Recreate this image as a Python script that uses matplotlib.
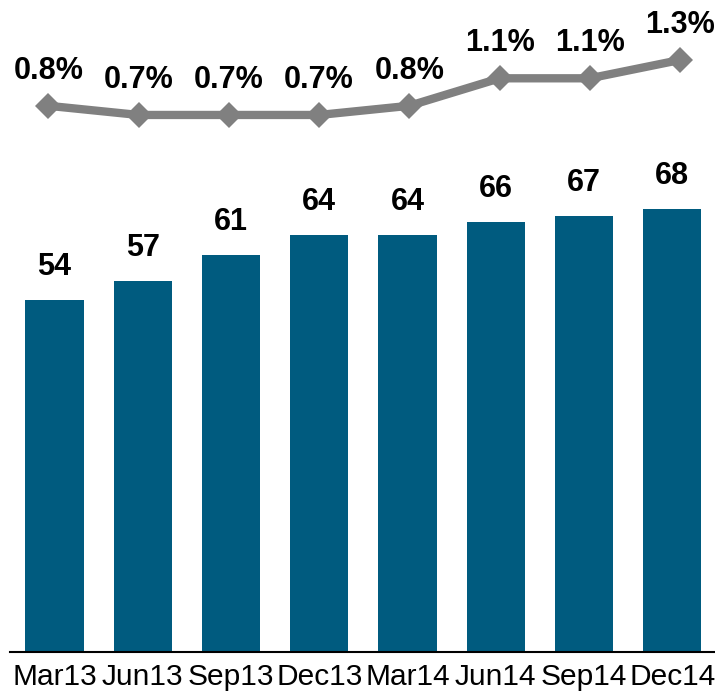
import matplotlib
matplotlib.use("Agg")
import matplotlib.pyplot as plt

plt.rcParams["font.family"] = ["Liberation Sans", "DejaVu Sans"]

quarters = ["Mar13", "Jun13", "Sep13", "Dec13", "Mar14", "Jun14", "Sep14", "Dec14"]
bar_values = [54, 57, 61, 64, 64, 66, 67, 68]
rate_values = [0.8, 0.7, 0.7, 0.7, 0.8, 1.1, 1.1, 1.3]
rate_labels = ["0.8%", "0.7%", "0.7%", "0.7%", "0.8%", "1.1%", "1.1%", "1.3%"]

BAR_COLOR = "#005B7F"
LINE_COLOR = "#808080"

W, H = 715, 697
fig = plt.figure(figsize=(W / 100, H / 100), dpi=100)

# Bar panel
ax = fig.add_axes([10.4 / W, 44.7 / H, 706 / W, 80 * 6.515 / H])
x = list(range(len(quarters)))
ax.bar(x, bar_values, width=0.66, color=BAR_COLOR)
ax.set_xlim(-0.5, 7.5)
ax.set_ylim(0, 80)
for xi, v in zip(x, bar_values):
    ax.annotate(f"{v}", (xi, v), xytext=(0, 18), textcoords="offset points",
                ha="center", va="baseline", fontsize=22, fontweight="bold")
ax.set_xticks(x)
ax.set_xticklabels(quarters, fontsize=21.5)
ax.tick_params(axis="x", length=0, pad=8)
ax.set_yticks([])
for side in ("top", "right", "left"):
    ax.spines[side].set_visible(False)
ax.spines["bottom"].set_linewidth(1.5)
ax.patch.set_alpha(0)

# Rate line panel
lx = fig.add_axes([3.2 / W, 1 - 133.3 / H, 722 / W, 91.67 / H])
lx.plot(x, rate_values, color=LINE_COLOR, linewidth=6, marker="D",
        markersize=13, markeredgewidth=0, solid_capstyle="butt")
lx.set_xlim(-0.5, 7.5)
lx.set_ylim(0.5, 1.5)
for xi, v, lab in zip(x, rate_values, rate_labels):
    lx.annotate(lab, (xi, v), xytext=(0, 19.5), textcoords="offset points",
                ha="center", va="baseline", fontsize=22, fontweight="bold",
                annotation_clip=False)
lx.axis("off")

fig.savefig("out.png", dpi=100)
